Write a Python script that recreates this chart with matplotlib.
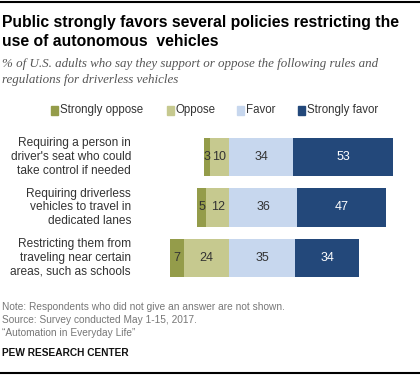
import matplotlib.pyplot as plt
from matplotlib.patches import Rectangle

# Datos del gráfico
categorias = [
    "Requiring a person in\ndriver's seat who could\ntake control if needed",
    "Requiring driverless\nvehicles to travel in\ndedicated lanes",
    "Restricting them from\ntraveling near certain\nareas, such as schools",
]
strongly_oppose = [3, 5, 7]
oppose = [10, 12, 24]
favor = [34, 36, 35]
strongly_favor = [53, 47, 34]
series = ["Strongly oppose", "Oppose", "Favor", "Strongly favor"]
colores = ["#949c4a", "#c6c98f", "#c7d7ee", "#23487a"]

plt.rcParams["font.family"] = ["Liberation Sans", "DejaVu Sans"]

W, H = 420, 375
fig = plt.figure(figsize=(W / 100, H / 100), dpi=100)

# ejes colocados en pixeles: cero en x=229, 1.89 px por punto
esc = 1.89
x0_px, left_px, right_px = 229, 140, 410
top_px, bot_px = 130, 285
ax = fig.add_axes([left_px / W, 1 - bot_px / H, (right_px - left_px) / W, (bot_px - top_px) / H])
ax.set_xlim(-(x0_px - left_px) / esc, (right_px - x0_px) / esc)
paso = 50.5
y_top = -(157 - top_px) / paso
ax.set_ylim(y_top + (bot_px - top_px) / paso, y_top)
ax.axis("off")

y = list(range(len(categorias)))
alto = 0.77
so_left = [-(a + b) for a, b in zip(strongly_oppose, oppose)]
op_left = [-b for b in oppose]
ax.barh(y, strongly_oppose, left=so_left, height=alto, color=colores[0])
ax.barh(y, oppose, left=op_left, height=alto, color=colores[1])
ax.barh(y, favor, left=0, height=alto, color=colores[2])
ax.barh(y, strongly_favor, left=favor, height=alto, color=colores[3])

tam = 9
for i in y:
    ax.text(so_left[i] + strongly_oppose[i] / 2, i, str(strongly_oppose[i]), ha="center", va="center",
            fontsize=tam, color="#333333")
    ax.text(op_left[i] + oppose[i] / 2, i, str(oppose[i]), ha="center", va="center", fontsize=tam, color="#333333")
    ax.text(favor[i] / 2, i, str(favor[i]), ha="center", va="center", fontsize=tam, color="#333333")
    ax.text(favor[i] + strongly_favor[i] / 2, i, str(strongly_favor[i]), ha="center", va="center",
            fontsize=tam, color="white")
    ax.text(-(x0_px - 131) / esc, i, categorias[i], ha="right", va="center", fontsize=8.6,
            color="#333333", linespacing=1.2)

# leyenda hecha a mano
pos_ley = [51, 167, 237, 298]
for px, c, s in zip(pos_ley, colores, series):
    fig.add_artist(Rectangle((px / W, 1 - 114.5 / H), 7 / W, 8.5 / H, color=c, transform=fig.transFigure))
    fig.text((px + 9) / W, 1 - 110 / H, s, fontsize=8.3, color="#333333", va="center", ha="left")

# titulo y subtitulo
fig.text(2 / W, 1 - 32 / H, "Public strongly favors several policies restricting the\nuse of autonomous  vehicles",
         fontsize=11.3, fontweight="bold", va="center", ha="left", linespacing=1.35)
fig.text(2 / W, 1 - 72 / H, "% of U.S. adults who say they support or oppose the following rules and\n"
         "regulations for driverless vehicles", fontsize=9.4, style="italic", color="#555555",
         va="center", ha="left", linespacing=1.4, family=["Liberation Serif", "DejaVu Serif"])

# notas
fig.text(2 / W, 1 - 320 / H, "Note: Respondents who did not give an answer are not shown.\n"
         "Source: Survey conducted May 1-15, 2017.\n\u201cAutomation in Everyday Life\u201d",
         fontsize=7.3, color="#777777", va="center", ha="left", linespacing=1.35)
fig.text(2 / W, 1 - 353 / H, "PEW RESEARCH CENTER", fontsize=7.3, fontweight="bold", color="#111111",
         va="center", ha="left")

# lineas superior e inferior
fig.add_artist(plt.Line2D([0, 1], [1 - 2 / H, 1 - 2 / H], color="black", lw=1.5))
fig.add_artist(plt.Line2D([0, 1], [1 - 373 / H, 1 - 373 / H], color="black", lw=1.5))

fig.savefig("out.png", dpi=100)
